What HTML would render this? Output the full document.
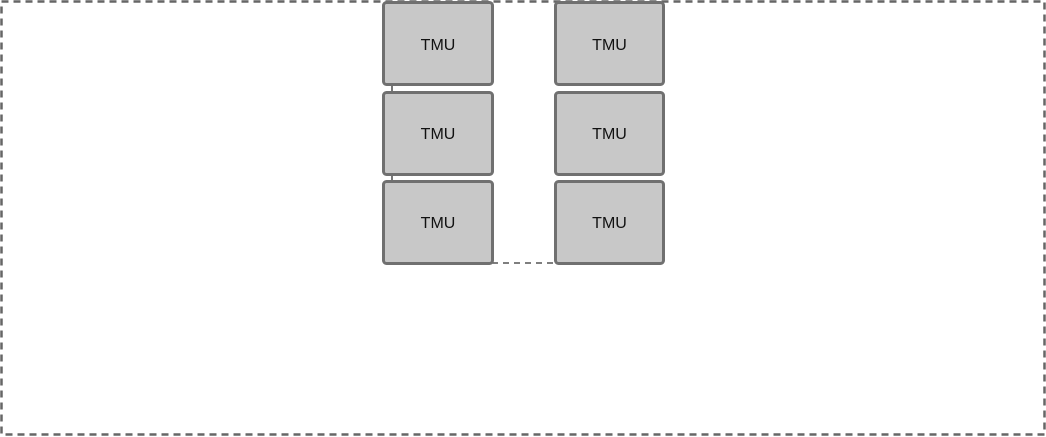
<!DOCTYPE html>
<html><head><meta charset="utf-8"><style>
html,body{margin:0;padding:0;background:#fff}
body{width:1046px;height:437px;position:relative;overflow:hidden;font-family:"Liberation Sans",sans-serif}
</style></head><body>
<svg width="1046" height="437" style="position:absolute;left:0;top:0">
<rect x="1.5" y="1.5" width="1043" height="433" fill="none" stroke="#666" stroke-width="2.5" stroke-dasharray="7,5"/>
<line x1="392" y1="85" x2="392" y2="92" stroke="#777" stroke-width="2"/>
<line x1="392" y1="174" x2="392" y2="181" stroke="#777" stroke-width="2"/>
<line x1="492" y1="263" x2="555" y2="263" stroke="#555" stroke-width="1.5" stroke-dasharray="6,5"/>
<g fill="#c8c8c8" stroke="#707070" stroke-width="3">
<rect x="383.5" y="2.5" width="109" height="82" rx="3"/>
<rect x="383.5" y="92.5" width="109" height="82" rx="3"/>
<rect x="383.5" y="181.5" width="109" height="82" rx="3"/>
<rect x="555.5" y="2.5" width="108" height="82" rx="3"/>
<rect x="555.5" y="92.5" width="108" height="82" rx="3"/>
<rect x="555.5" y="181.5" width="108" height="82" rx="3"/>
</g>
<g font-family="Liberation Sans, sans-serif" font-size="16" fill="#111" text-anchor="middle">
<text x="438" y="50">TMU</text>
<text x="438" y="139">TMU</text>
<text x="438" y="228">TMU</text>
<text x="609.5" y="50">TMU</text>
<text x="609.5" y="139">TMU</text>
<text x="609.5" y="228">TMU</text>
</g>
</svg>
</body></html>
